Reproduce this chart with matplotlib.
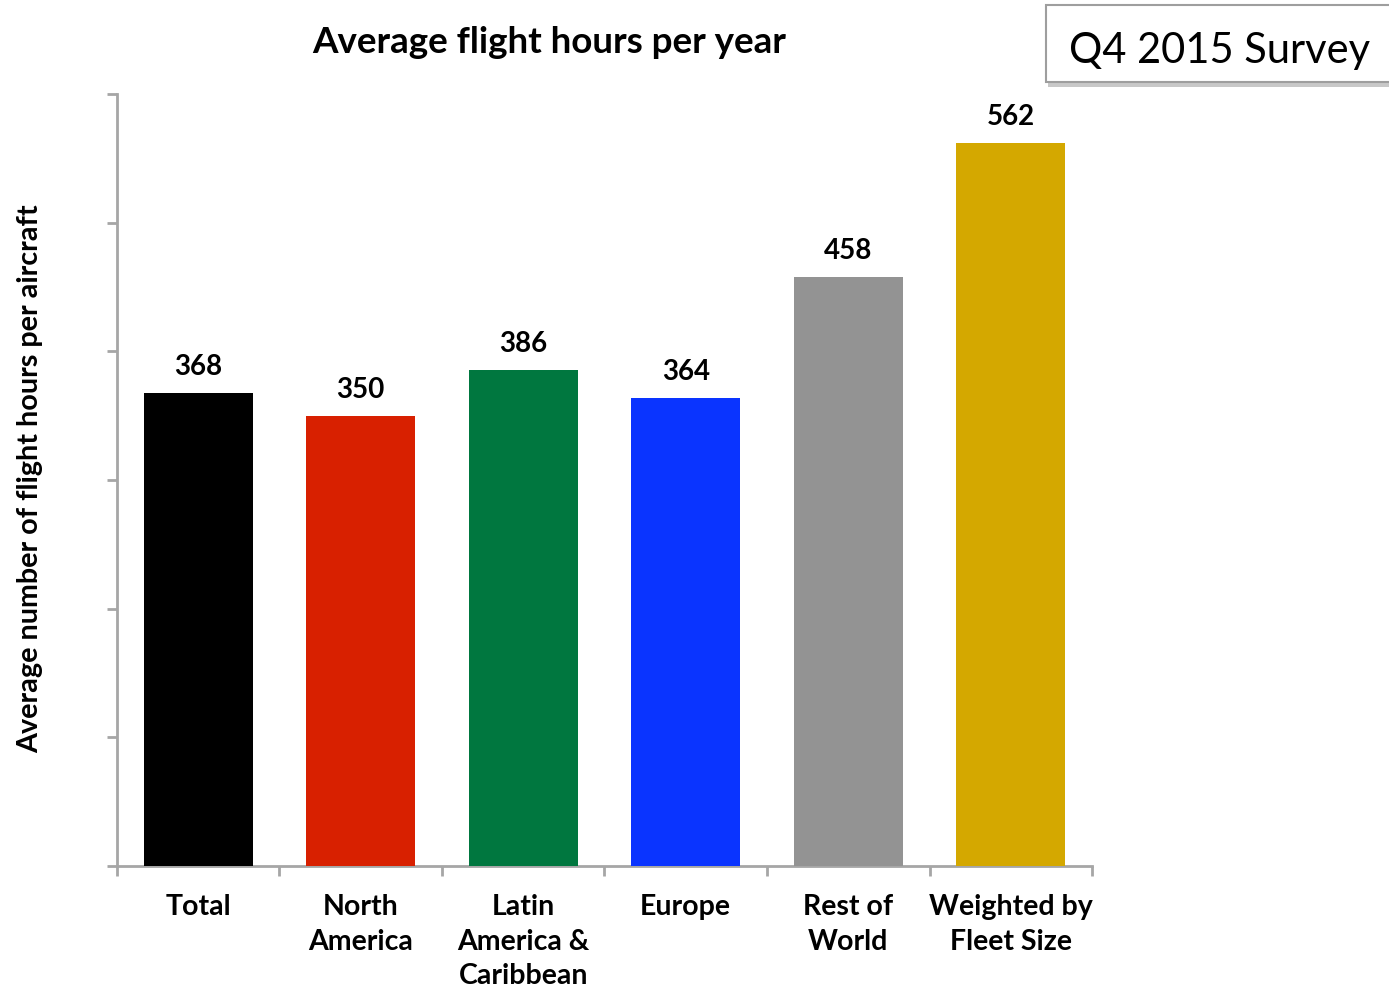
import matplotlib.pyplot as plt
from matplotlib.patches import Rectangle

plt.rcParams['font.family'] = ['Lato', 'DejaVu Sans']

categories = ['Total', 'North\nAmerica', 'Latin\nAmerica &\nCaribbean', 'Europe', 'Rest of\nWorld', 'Weighted by\nFleet Size']
hours = [368, 350, 386, 364, 458, 562]
colors = ['#000000', '#D82000', '#00773F', '#0A34FF', '#939393', '#D4A800']

fig = plt.figure(figsize=(13.89, 9.92), dpi=100)
ax = fig.add_axes([0.0842, 0.127, 0.702, 0.778])

x = range(len(hours))
ax.bar(x, hours, 0.67, color=colors, zorder=3)
for xi, v in zip(x, hours):
    ax.text(xi, v + 10, str(v), ha='center', va='bottom', fontsize=20, fontweight='bold')

ax.set_xlim(-0.5, len(hours) - 0.5)
ax.set_ylim(0, 600)
ax.set_yticks(range(0, 601, 100))
ax.set_yticklabels([])
ax.set_xticks([i - 0.5 for i in range(len(hours) + 1)])
ax.set_xticklabels([])
ax.tick_params(axis='both', direction='out', length=7, width=2, color='#A6A6A6')
for xi, lab in zip(x, categories):
    ax.text(xi, -22, lab, ha='center', va='top', fontsize=20.5, fontweight='bold',
            linespacing=1.4)

for s in ['top', 'right']:
    ax.spines[s].set_visible(False)
for s in ['left', 'bottom']:
    ax.spines[s].set_color('#A6A6A6')
    ax.spines[s].set_linewidth(2)

fig.text(30 / 1389, 0.517, 'Average number of flight hours per aircraft', rotation=90,
         ha='center', va='center', fontsize=20.7, fontweight='bold')
fig.text(0.395, 0.957, 'Average flight hours per year', ha='center', va='center', fontsize=26.5, fontweight='bold')

# survey badge with shadow
shadow = Rectangle((0.7545, 0.912), 0.25, 0.078, transform=fig.transFigure,
                   facecolor='#C8C8C8', edgecolor='none', zorder=1)
fig.patches.append(shadow)
box = Rectangle((0.753, 0.917), 0.25, 0.078, transform=fig.transFigure,
                facecolor='white', edgecolor='#9E9E9E', linewidth=1.5, zorder=2)
fig.patches.append(box)
fig.text(0.878, 0.949, 'Q4 2015 Survey', ha='center', va='center', fontsize=30, zorder=3)

fig.savefig('out.png', dpi=100)
